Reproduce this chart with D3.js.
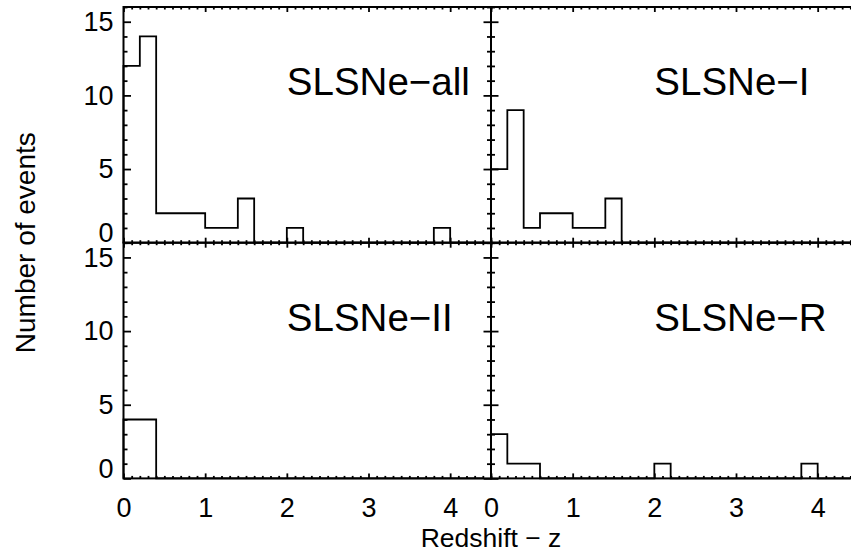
<!DOCTYPE html>
<html>
<head>
<meta charset="utf-8">
<script src="https://cdn.jsdelivr.net/npm/d3@7"></script>
<style>
  html, body { margin: 0; padding: 0; background: #fff; }
  svg { display: block; }
</style>
</head>
<body>
<svg id="chart" width="851" height="557"></svg>
<script>
// Redshift histograms of superluminous supernovae, bins of width 0.2
const binStarts = [0.0, 0.2, 0.4, 0.6, 0.8, 1.0, 1.2, 1.4, 1.6, 1.8, 2.0,
                   2.2, 2.4, 2.6, 2.8, 3.0, 3.2, 3.4, 3.6, 3.8, 4.0, 4.2];
const binWidth = 0.2;

const countsAll = [12, 14, 2, 2, 2, 1, 1, 3, 0, 0, 1, 0, 0, 0, 0, 0, 0, 0, 0, 1, 0, 0];
const countsI   = [ 5,  9, 1, 2, 2, 1, 1, 3, 0, 0, 0, 0, 0, 0, 0, 0, 0, 0, 0, 0, 0, 0];
const countsII  = [ 4,  4, 0, 0, 0, 0, 0, 0, 0, 0, 0, 0, 0, 0, 0, 0, 0, 0, 0, 0, 0, 0];
const countsR   = [ 3,  1, 1, 0, 0, 0, 0, 0, 0, 0, 1, 0, 0, 0, 0, 0, 0, 0, 0, 1, 0, 0];

const panelNames = ["SLSNe\u2212all", "SLSNe\u2212I", "SLSNe\u2212II", "SLSNe\u2212R"];
const panelCounts = [countsAll, countsI, countsII, countsR];

const xDomain = [0, 4.5];
const yDomain = [0, 16];
const xMajorTicks = [0, 1, 2, 3, 4];
const yMajorTicks = [0, 5, 10, 15];

const xTitle = "Redshift \u2212 z";
const yTitle = "Number of events";

// layout
const plotLeft = 123.5, plotTop = 7, panelW = 367.5, panelH = 235.7;
const font = "'Liberation Sans', Arial, Helvetica, sans-serif";
const tickFont = 27;

const svg = d3.select("#chart");

const xMinor = d3.range(0, 45.5, 1).map(v => v / 10).filter(v => Math.abs(v - Math.round(v)) > 1e-9);
const yMinor = d3.range(0, 17, 1).filter(v => v % 5 !== 0);

function styleAxis(g) {
  g.attr("font-family", font).attr("font-size", tickFont);
  g.select(".domain").remove();
  g.selectAll(".tick line").attr("stroke", "#000").attr("stroke-width", 1.8);
  g.selectAll(".tick text").attr("fill", "#000");
}

panelNames.forEach((name, i) => {
  const col = i % 2, row = Math.floor(i / 2);
  const x0 = plotLeft + col * panelW;
  const y0 = plotTop + row * panelH;
  const x = d3.scaleLinear().domain(xDomain).range([x0, x0 + panelW]);
  const y = d3.scaleLinear().domain(yDomain).range([y0 + panelH, y0]);
  const g = svg.append("g");

  // histogram outline
  const counts = panelCounts[i];
  const pts = [[binStarts[0], 0]];
  counts.forEach((c, k) => {
    pts.push([binStarts[k], c]);
    pts.push([binStarts[k] + binWidth, c]);
  });
  pts.push([binStarts[binStarts.length - 1] + binWidth, 0]);
  g.append("path")
    .datum(pts)
    .attr("fill", "none")
    .attr("stroke", "#000")
    .attr("stroke-width", 1.8)
    .attr("stroke-linejoin", "miter")
    .attr("d", d3.line().x(d => x(d[0])).y(d => y(d[1])));

  const showX = row === 1, showY = col === 0;

  // bottom axis
  const gb = g.append("g").attr("transform", `translate(0,${y0 + panelH})`);
  gb.call(d3.axisBottom(x).tickValues(xMinor).tickSize(-2.5).tickSizeOuter(0).tickFormat(""));
  styleAxis(gb);
  const gbM = g.append("g").attr("transform", `translate(0,${y0 + panelH})`);
  gbM.call(d3.axisBottom(x).tickValues(xMajorTicks).tickSize(-5).tickSizeOuter(0)
    .tickPadding(19).tickFormat(showX ? d3.format("d") : ""));
  styleAxis(gbM);

  // top axis
  const gt = g.append("g").attr("transform", `translate(0,${y0})`);
  gt.call(d3.axisTop(x).tickValues(xMinor).tickSize(-2.5).tickSizeOuter(0).tickFormat(""));
  styleAxis(gt);
  const gtM = g.append("g").attr("transform", `translate(0,${y0})`);
  gtM.call(d3.axisTop(x).tickValues(xMajorTicks).tickSize(-5).tickSizeOuter(0).tickFormat(""));
  styleAxis(gtM);

  // left axis
  const gl = g.append("g").attr("transform", `translate(${x0},0)`);
  gl.call(d3.axisLeft(y).tickValues(yMinor).tickSize(-4).tickSizeOuter(0).tickFormat(""));
  styleAxis(gl);
  const glM = g.append("g").attr("transform", `translate(${x0},0)`);
  glM.call(d3.axisLeft(y).tickValues(yMajorTicks).tickSize(-7.5).tickSizeOuter(0)
    .tickPadding(10).tickFormat(showY ? d3.format("d") : ""));
  styleAxis(glM);
  // keep the zero label inside the panel, resting on the bottom edge
  glM.selectAll(".tick text").filter(d => d === 0).attr("dy", "-0.04em");

  // right axis
  const gr = g.append("g").attr("transform", `translate(${x0 + panelW},0)`);
  gr.call(d3.axisRight(y).tickValues(yMinor).tickSize(-4).tickSizeOuter(0).tickFormat(""));
  styleAxis(gr);
  const grM = g.append("g").attr("transform", `translate(${x0 + panelW},0)`);
  grM.call(d3.axisRight(y).tickValues(yMajorTicks).tickSize(-7.5).tickSizeOuter(0).tickFormat(""));
  styleAxis(grM);

  // frame
  g.append("rect")
    .attr("x", x0).attr("y", y0)
    .attr("width", panelW).attr("height", panelH)
    .attr("fill", "none").attr("stroke", "#000").attr("stroke-width", 2);

  // panel label
  g.append("text")
    .attr("x", x(2.0)).attr("y", y(10))
    .attr("font-family", font).attr("font-size", 38.5)
    .attr("fill", "#000")
    .text(name);
});

// axis titles
svg.append("text")
  .attr("x", plotLeft + panelW).attr("y", 546.7)
  .attr("text-anchor", "middle")
  .attr("font-family", font).attr("font-size", 26.5)
  .attr("fill", "#000")
  .text(xTitle);

svg.append("text")
  .attr("transform", `translate(35,${plotTop + panelH}) rotate(-90)`)
  .attr("text-anchor", "middle")
  .attr("font-family", font).attr("font-size", 28)
  .attr("fill", "#000")
  .text(yTitle);
</script>
</body>
</html>
